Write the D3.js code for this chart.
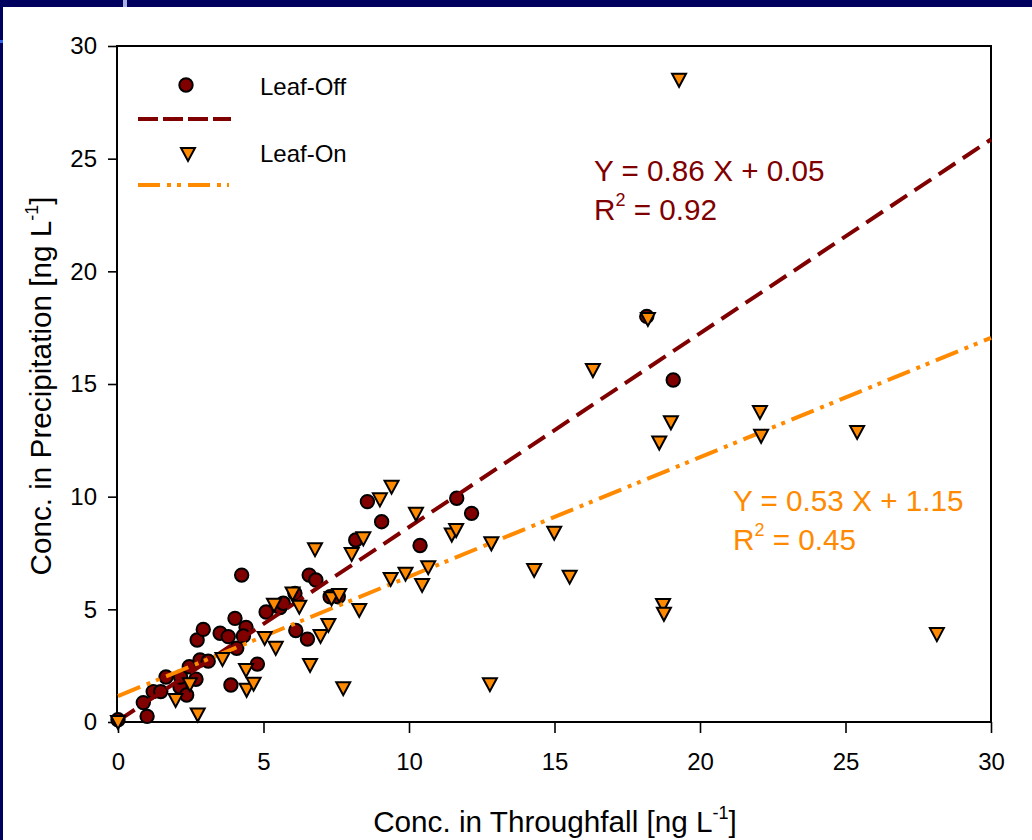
<!DOCTYPE html>
<html>
<head>
<meta charset="utf-8">
<script src="https://cdn.jsdelivr.net/npm/d3@7"></script>
<style>
  html, body { margin: 0; padding: 0; background: #ffffff; }
  svg { display: block; font-family: Arial, "Liberation Sans", sans-serif; }
</style>
</head>
<body>
<svg id="chart" width="1032" height="840"></svg>
<script>
// ---- data ----
const xTicks = [0, 5, 10, 15, 20, 25, 30];
const yTicks = [0, 5, 10, 15, 20, 25, 30];

const seriesNames = ["Leaf-Off", "Leaf-On"];

// Leaf-Off: [throughfall, precipitation]
const leafOff = [
  [0.0, 0.1], [1.0, 0.25], [0.87, 0.86], [1.21, 1.35], [1.47, 1.35], [1.65, 2.0],
  [2.13, 1.55], [2.36, 1.2], [2.15, 2.0], [2.45, 2.45], [2.68, 1.9], [2.72, 3.64],
  [2.93, 4.11], [2.82, 2.75], [3.10, 2.70], [3.51, 3.94], [3.79, 3.79], [4.02, 4.60],
  [4.40, 4.20], [4.31, 3.82], [4.08, 3.27], [4.25, 6.52], [3.88, 1.64], [4.79, 2.57],
  [5.09, 4.88], [5.57, 5.08], [5.68, 5.27], [6.08, 5.71], [6.11, 4.06], [6.51, 3.68],
  [6.57, 6.52], [6.80, 6.30], [7.29, 5.56], [7.57, 5.56], [8.17, 8.08], [8.57, 9.78],
  [9.06, 8.89], [10.38, 7.83], [11.64, 9.93], [12.15, 9.26], [18.17, 18.0], [19.08, 15.18]
];

// Leaf-On: [throughfall, precipitation]
const leafOn = [
  [0.0, 0.0], [1.98, 0.98], [2.74, 0.33], [2.47, 1.68], [3.59, 2.80], [4.40, 2.31],
  [4.42, 1.43], [4.66, 1.70], [5.04, 3.73], [5.42, 3.29], [5.36, 5.2], [6.00, 5.70],
  [6.23, 5.12], [6.60, 2.53], [6.77, 7.67], [6.96, 3.82], [7.23, 4.31], [7.34, 5.49],
  [7.60, 5.64], [7.74, 1.50], [8.03, 7.46], [8.29, 4.97], [8.43, 8.15], [9.00, 9.88],
  [9.40, 10.44], [9.37, 6.35], [9.88, 6.58], [10.24, 9.24], [10.45, 6.08], [10.66, 6.87],
  [11.47, 8.32], [11.62, 8.52], [12.83, 7.93], [12.78, 1.68], [14.30, 6.75], [14.99, 8.40],
  [15.52, 6.45], [16.32, 15.62], [18.21, 17.89], [18.60, 12.4], [19.00, 13.3], [18.73, 5.19],
  [18.76, 4.8], [19.28, 28.5], [22.06, 13.76], [22.10, 12.7], [25.4, 12.87], [28.14, 3.9]
];

// regression fits: [slope, intercept, r2]
const fitOff = [0.86, 0.05, 0.92];
const fitOn = [0.53, 1.15, 0.45];
const fitRange = [0, 30];

// ---- styles ----
const darkRed = "#800000";
const orange = "#FF8A00";
const navy = "#00005E";

const svg = d3.select("#chart");

// slide frame
svg.append("rect").attr("x", 0).attr("y", 0).attr("width", 1032).attr("height", 840).attr("fill", "#ffffff");
svg.append("rect").attr("x", 0).attr("y", 0).attr("width", 1032).attr("height", 7).attr("fill", navy);
svg.append("rect").attr("x", 0).attr("y", 0).attr("width", 3).attr("height", 840).attr("fill", navy);
svg.append("rect").attr("x", 123).attr("y", 0).attr("width", 4).attr("height", 7).attr("fill", "#A9B0E2");
svg.append("rect").attr("x", 0).attr("y", 40).attr("width", 3).attr("height", 3).attr("fill", "#2F62F0");

const x = d3.scaleLinear().domain([0, 30]).range([118, 991]);
const y = d3.scaleLinear().domain([0, 30]).range([722, 46]);

// axes
const xAxis = svg.append("g").attr("transform", "translate(0,722)")
  .call(d3.axisBottom(x).tickValues(xTicks).tickSize(11).tickPadding(20).tickFormat(d3.format("d")));
const yAxis = svg.append("g").attr("transform", "translate(117,0)")
  .call(d3.axisLeft(y).tickValues(yTicks).tickSize(9).tickPadding(11).tickFormat(d3.format("d")));
[xAxis, yAxis].forEach(g => {
  g.select(".domain").remove();
  g.selectAll("line").attr("stroke", "#000").attr("stroke-width", 1.6);
  g.selectAll("text").attr("fill", "#000").style("font-size", "24px")
    .style("font-family", "Arial, 'Liberation Sans', sans-serif");
});

// plot frame
svg.append("rect").attr("x", x(0) - 1).attr("y", y(30)).attr("width", x(30) - x(0) + 1).attr("height", y(0) - y(30))
  .attr("fill", "none").attr("stroke", "#000").attr("stroke-width", 2);

// markers
const triPath = "M-7,-6 L7,-6 L0,7 Z";

svg.append("g").selectAll("circle").data(leafOff).join("circle")
  .attr("cx", d => x(d[0])).attr("cy", d => y(d[1])).attr("r", 6.7)
  .attr("fill", darkRed).attr("stroke", "#000").attr("stroke-width", 2);

// regression lines
const line = d3.line().x(d => x(d[0])).y(d => y(d[1]));
const fitPts = f => fitRange.map(v => [v, f[0] * v + f[1]]);
svg.append("path").attr("d", line(fitPts(fitOff))).attr("fill", "none")
  .attr("stroke", darkRed).attr("stroke-width", 4).attr("stroke-dasharray", "20,9");
svg.append("path").attr("d", line(fitPts(fitOn))).attr("fill", "none")
  .attr("stroke", orange).attr("stroke-width", 4).attr("stroke-dasharray", "24,7,4,6,4,7");

svg.append("g").selectAll("path").data(leafOn).join("path")
  .attr("d", triPath).attr("transform", d => `translate(${x(d[0])},${y(d[1])})`)
  .attr("fill", orange).attr("stroke", "#000").attr("stroke-width", 2).attr("stroke-linejoin", "miter");

// legend
const lg = svg.append("g");
lg.append("circle").attr("cx", 186).attr("cy", 85).attr("r", 6.7).attr("fill", darkRed).attr("stroke", "#000").attr("stroke-width", 2);
lg.append("text").attr("x", 260).attr("y", 95).style("font-size", "24px").text(seriesNames[0]);
lg.append("line").attr("x1", 138).attr("x2", 231).attr("y1", 119).attr("y2", 119)
  .attr("stroke", darkRed).attr("stroke-width", 4).attr("stroke-dasharray", "20,5");
lg.append("path").attr("d", triPath).attr("transform", "translate(188,154)")
  .attr("fill", orange).attr("stroke", "#000").attr("stroke-width", 2);
lg.append("text").attr("x", 260).attr("y", 162).style("font-size", "24px").text(seriesNames[1]);
lg.append("line").attr("x1", 138).attr("x2", 229).attr("y1", 185).attr("y2", 185)
  .attr("stroke", orange).attr("stroke-width", 4).attr("stroke-dasharray", "22,7,4,6,4,7");

// equations
function equation(f, color, x0, y0) {
  const g = svg.append("g").attr("fill", color).style("font-size", "29.7px");
  g.append("text").attr("x", x0).attr("y", y0)
    .text(`Y = ${f[0].toFixed(2)} X + ${f[1].toFixed(2)}`);
  const t = g.append("text").attr("x", x0).attr("y", y0 + 39);
  t.append("tspan").text("R");
  t.append("tspan").attr("dy", -14).style("font-size", "18px").text("2");
  t.append("tspan").attr("dy", 14).text(` = ${f[2].toFixed(2)}`);
}
equation(fitOff, darkRed, 594, 181);
equation(fitOn, orange, 733, 511);

// axis titles
const xt = svg.append("text").attr("x", 555).attr("y", 832).attr("text-anchor", "middle")
  .style("font-size", "29.7px").attr("fill", "#000");
xt.append("tspan").text("Conc. in Throughfall [ng L");
xt.append("tspan").attr("dy", -13).style("font-size", "18px").text("-1");
xt.append("tspan").attr("dy", 13).text("]");

const yt = svg.append("text").attr("transform", "translate(51,386) rotate(-90)").attr("text-anchor", "middle")
  .style("font-size", "29.7px").attr("fill", "#000");
yt.append("tspan").text("Conc. in Precipitation [ng L");
yt.append("tspan").attr("dy", -13).style("font-size", "18px").text("-1");
yt.append("tspan").attr("dy", 13).text("]");
</script>
</body>
</html>
